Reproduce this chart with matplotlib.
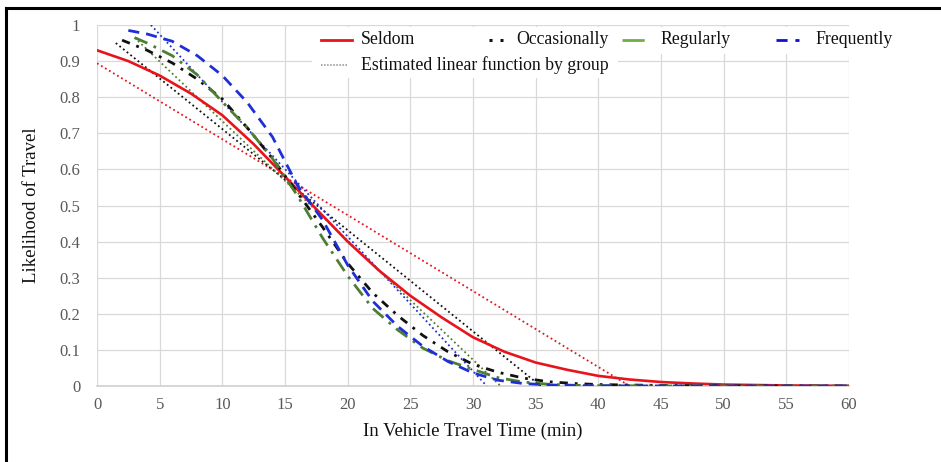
import matplotlib
matplotlib.use("Agg")
import matplotlib.pyplot as plt
from matplotlib.lines import Line2D
from matplotlib.patches import Rectangle

plt.rcParams['font.family'] = ['Liberation Serif', 'DejaVu Serif']

# ---- data ----
x_seldom = [0, 2.5, 5, 7.5, 10, 12.5, 15, 17.5, 20, 22.5, 25, 27.5, 30, 32.5, 35,
            37.5, 40, 42.5, 45, 47.5, 50, 55, 60]
y_seldom = [0.93, 0.90, 0.86, 0.81, 0.75, 0.67, 0.58, 0.49, 0.40, 0.32, 0.25, 0.19,
            0.135, 0.095, 0.065, 0.045, 0.028, 0.018, 0.011, 0.007, 0.004, 0.0015, 0.0005]

x_occ = [2, 4, 6, 8, 10, 12, 14, 16, 18, 20, 22, 24, 26, 28, 30, 32, 34, 36, 38, 40,
         45, 50, 60]
y_occ = [0.958, 0.93, 0.895, 0.85, 0.795, 0.715, 0.63, 0.535, 0.44, 0.34, 0.258, 0.195,
         0.14, 0.095, 0.06, 0.038, 0.022, 0.012, 0.007, 0.004, 0.0015, 0.0005, 0.0]

x_reg = [3, 4, 6, 8, 10, 12, 14, 16, 18, 20, 22, 24, 26, 28, 30, 32, 34, 36, 38, 40,
         45, 50, 60]
y_reg = [0.965, 0.95, 0.915, 0.862, 0.787, 0.715, 0.63, 0.527, 0.41, 0.305, 0.215, 0.155,
         0.105, 0.07, 0.046, 0.023, 0.011, 0.005, 0.002, 0.001, 0.0003, 0.0001, 0.0]

x_freq = [2.5, 4, 6, 8, 10, 12, 14, 16, 18, 20, 22, 24, 26, 28, 30, 32, 34, 36, 38, 40,
          45, 50, 60]
y_freq = [0.985, 0.975, 0.955, 0.915, 0.86, 0.785, 0.69, 0.555, 0.46, 0.335, 0.235, 0.165,
          0.11, 0.068, 0.036, 0.016, 0.007, 0.003, 0.001, 0.0005, 0.0002, 0.0001, 0.0]

# estimated linear functions (end points of each dotted line)
x_lin_seldom = [0, 42.5]
y_lin_seldom = [0.894, 0.0]
x_lin_occ = [1.5, 35.4]
y_lin_occ = [0.95, 0.0]
x_lin_reg = [3.0, 32.2]
y_lin_reg = [0.965, 0.0]
x_lin_freq = [4.3, 31.1]
y_lin_freq = [1.0, 0.0]

x_ticks = list(range(0, 61, 5))
y_ticks = [0, 0.1, 0.2, 0.3, 0.4, 0.5, 0.6, 0.7, 0.8, 0.9, 1]
y_tick_labels = ['0', '0.1', '0.2', '0.3', '0.4', '0.5', '0.6', '0.7', '0.8', '0.9', '1']

labels = ['Seldom', 'Occasionally', 'Regularly', 'Frequently']
lin_label = 'Estimated linear function by group'

# ---- styles ----
RED = '#e8141b'
BLACK = '#111111'
GREEN = '#4d7f32'
BLUE = '#1f2fd6'

W, H = 941, 462
fig = plt.figure(figsize=(W / 100, H / 100), dpi=100)
ax = fig.add_axes([97 / W, 1 - 386 / H, 752 / W, 361 / H])

dot = (0, (1, 1.6))
ax.plot(x_lin_seldom, y_lin_seldom, color=RED, lw=1.3, ls=dot, zorder=3)
ax.plot(x_lin_occ, y_lin_occ, color=BLACK, lw=1.3, ls=dot, zorder=3)
ax.plot(x_lin_reg, y_lin_reg, color=GREEN, lw=1.3, ls=dot, zorder=3)
ax.plot(x_lin_freq, y_lin_freq, color=BLUE, lw=1.3, ls=dot, zorder=3)

ax.plot(x_seldom, y_seldom, color=RED, lw=1.9, zorder=4)
ax.plot(x_occ, y_occ, color=BLACK, lw=2.0, ls=(0, (3, 2.5, 1, 2.5)), zorder=4)
ax.plot(x_reg, y_reg, color=GREEN, lw=2.0, ls=(0, (5, 2.5, 1, 2.5)), zorder=4)
ax.plot(x_freq, y_freq, color=BLUE, lw=2.0, ls=(0, (4, 2.5)), zorder=4)

ax.set_xlim(0, 60)
ax.set_ylim(0, 1)
ax.set_xticks(x_ticks)
ax.set_xticklabels([str(t) for t in x_ticks])
ax.set_yticks(y_ticks)
ax.set_yticklabels(y_tick_labels)
ax.grid(True, color='#d9d9d9', lw=0.9)
ax.set_axisbelow(True)
for s in ['top', 'right', 'left']:
    ax.spines[s].set_visible(False)
ax.spines['bottom'].set_color('#d0d0d0')
ax.spines['bottom'].set_linewidth(1.2)
ax.tick_params(axis='both', length=0, labelsize=12, colors='#595959', pad=8)
ax.tick_params(axis='y', pad=12)

ax.set_xlabel('In Vehicle Travel Time (min)', fontsize=13.5, color='#111111', labelpad=7)
ax.set_ylabel('Likelihood of Travel', fontsize=13.5, color='#111111', labelpad=14)

# ---- legend (drawn manually to follow the reference layout) ----
def fx(px):
    return px / W


def fy(py):
    return 1 - py / H


fig.add_artist(Rectangle((fx(312), fy(54)), fx(902) - fx(312), fy(27) - fy(54),
                         transform=fig.transFigure, facecolor='white', edgecolor='none',
                         zorder=5))
fig.add_artist(Rectangle((fx(312), fy(78)), fx(618) - fx(312), fy(54) - fy(78),
                         transform=fig.transFigure, facecolor='white', edgecolor='none',
                         zorder=5))

row1, row2 = 40, 65
leg_items = [
    (labels[0], RED, 2.0, '-', 321, 352, 361),
    (labels[1], BLACK, 2.2, (0, (1, 2.6)), 489, 503, 516),
    (labels[2], '#70ad47', 2.0, (0, (8, 2.8, 1, 2.8)), 622, 650, 660),
    (labels[3], '#1010d0', 2.0, (0, (4, 2.8)), 776, 799, 815),
]
for lab, col, lw, ls, h0, h1, tx in leg_items:
    fig.add_artist(Line2D([fx(h0), fx(h1)], [fy(row1), fy(row1)], transform=fig.transFigure,
                          color=col, lw=lw, ls=ls, zorder=6))
    fig.text(fx(tx), fy(row1), lab, fontsize=12.8, color='#111111', va='center',
             ha='left', zorder=6)
fig.add_artist(Line2D([fx(321), fx(348)], [fy(row2), fy(row2)], transform=fig.transFigure,
                      color='#8c8c8c', lw=1.1, ls=(0, (1, 1)), zorder=6))
fig.text(fx(361), fy(row2), lin_label, fontsize=12.8, color='#111111', va='center',
         ha='left', zorder=6)

# outer frame (top and left edges visible)
fig.add_artist(Line2D([fx(6), fx(6)], [0, fy(8)], transform=fig.transFigure,
                      color='black', lw=2.2))
fig.add_artist(Line2D([fx(6), 1], [fy(8), fy(8)], transform=fig.transFigure,
                      color='black', lw=2.2))

fig.savefig('out.png', dpi=100)
